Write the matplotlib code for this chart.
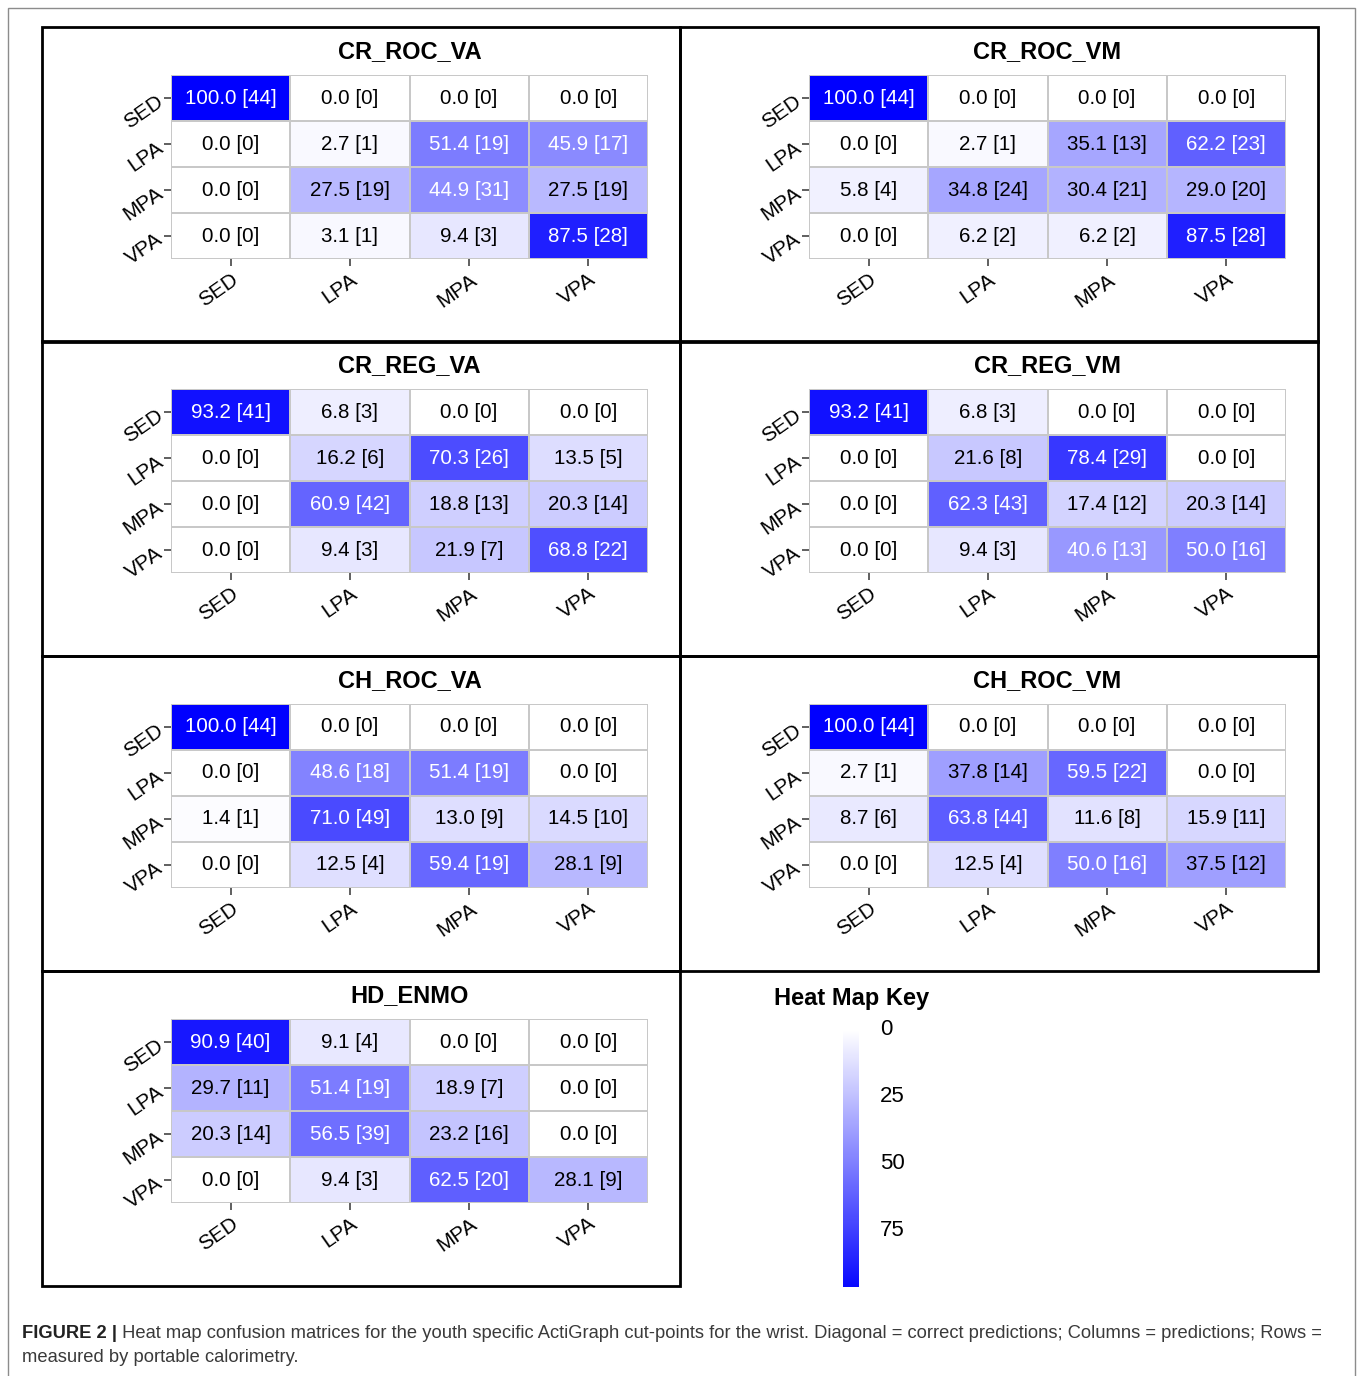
import numpy as np
import matplotlib
matplotlib.use("Agg")
import matplotlib.pyplot as plt
from matplotlib.colors import LinearSegmentedColormap
from matplotlib.patches import Rectangle

plt.rcParams['font.family'] = ['Liberation Sans', 'DejaVu Sans']

classes = ["SED", "LPA", "MPA", "VPA"]

# percent of measured class [count], rows = measured, cols = predicted
titles = ["CR_ROC_VA", "CR_ROC_VM", "CR_REG_VA", "CR_REG_VM",
          "CH_ROC_VA", "CH_ROC_VM", "HD_ENMO"]

pct_cr_roc_va = [[100.0, 0.0, 0.0, 0.0], [0.0, 2.7, 51.4, 45.9],
                 [0.0, 27.5, 44.9, 27.5], [0.0, 3.1, 9.4, 87.5]]
n_cr_roc_va = [[44, 0, 0, 0], [0, 1, 19, 17], [0, 19, 31, 19], [0, 1, 3, 28]]

pct_cr_roc_vm = [[100.0, 0.0, 0.0, 0.0], [0.0, 2.7, 35.1, 62.2],
                 [5.8, 34.8, 30.4, 29.0], [0.0, 6.2, 6.2, 87.5]]
n_cr_roc_vm = [[44, 0, 0, 0], [0, 1, 13, 23], [4, 24, 21, 20], [0, 2, 2, 28]]

pct_cr_reg_va = [[93.2, 6.8, 0.0, 0.0], [0.0, 16.2, 70.3, 13.5],
                 [0.0, 60.9, 18.8, 20.3], [0.0, 9.4, 21.9, 68.8]]
n_cr_reg_va = [[41, 3, 0, 0], [0, 6, 26, 5], [0, 42, 13, 14], [0, 3, 7, 22]]

pct_cr_reg_vm = [[93.2, 6.8, 0.0, 0.0], [0.0, 21.6, 78.4, 0.0],
                 [0.0, 62.3, 17.4, 20.3], [0.0, 9.4, 40.6, 50.0]]
n_cr_reg_vm = [[41, 3, 0, 0], [0, 8, 29, 0], [0, 43, 12, 14], [0, 3, 13, 16]]

pct_ch_roc_va = [[100.0, 0.0, 0.0, 0.0], [0.0, 48.6, 51.4, 0.0],
                 [1.4, 71.0, 13.0, 14.5], [0.0, 12.5, 59.4, 28.1]]
n_ch_roc_va = [[44, 0, 0, 0], [0, 18, 19, 0], [1, 49, 9, 10], [0, 4, 19, 9]]

pct_ch_roc_vm = [[100.0, 0.0, 0.0, 0.0], [2.7, 37.8, 59.5, 0.0],
                 [8.7, 63.8, 11.6, 15.9], [0.0, 12.5, 50.0, 37.5]]
n_ch_roc_vm = [[44, 0, 0, 0], [1, 14, 22, 0], [6, 44, 8, 11], [0, 4, 16, 12]]

pct_hd_enmo = [[90.9, 9.1, 0.0, 0.0], [29.7, 51.4, 18.9, 0.0],
               [20.3, 56.5, 23.2, 0.0], [0.0, 9.4, 62.5, 28.1]]
n_hd_enmo = [[40, 4, 0, 0], [11, 19, 7, 0], [14, 39, 16, 0], [0, 3, 20, 9]]

pcts = [pct_cr_roc_va, pct_cr_roc_vm, pct_cr_reg_va, pct_cr_reg_vm,
        pct_ch_roc_va, pct_ch_roc_vm, pct_hd_enmo]
counts = [n_cr_roc_va, n_cr_roc_vm, n_cr_reg_va, n_cr_reg_vm,
          n_ch_roc_va, n_ch_roc_vm, n_hd_enmo]

key_ticks = [0, 25, 50, 75]

W, H = 1357, 1376
fig = plt.figure(figsize=(W / 100, H / 100), dpi=100)
cmap = LinearSegmentedColormap.from_list("wb", ["#FFFFFF", "#0000FF"])


def px_axes(x0, y0, x1, y1):
    return fig.add_axes([x0 / W, 1 - y1 / H, (x1 - x0) / W, (y1 - y0) / H])


def px_rect(x0, y0, x1, y1, **kw):
    fig.patches.append(Rectangle((x0 / W, 1 - y1 / H), (x1 - x0) / W, (y1 - y0) / H,
                                 transform=fig.transFigure, fill=False, **kw))


# outer figure frame
px_rect(8, 8, 1355, 1380, edgecolor="#8c8c8c", linewidth=1.0)

col_x = [42, 680]
row_y = [27, 341, 656, 971]
panel_w, panel_h = 638, 315

for i, title in enumerate(titles):
    r, c = divmod(i, 2)
    px0, py0 = col_x[c], row_y[r]
    px_rect(px0, py0, px0 + panel_w, py0 + panel_h, edgecolor="black", linewidth=2.0, zorder=5)

    ax = px_axes(px0 + 129, py0 + 48, px0 + 606, py0 + 232)
    vals = np.array(pcts[i])
    ax.pcolormesh(np.arange(5), np.arange(5), vals, cmap=cmap, vmin=0, vmax=100,
                  edgecolors="#c8c8c8", linewidth=1.3)
    ax.set_xlim(0, 4)
    ax.set_ylim(4, 0)
    for rr in range(4):
        for cc in range(4):
            v = vals[rr, cc]
            ax.text(cc + 0.5, rr + 0.5, f"{v:.1f} [{counts[i][rr][cc]}]",
                    ha="center", va="center", fontsize=14.8,
                    color="white" if v > 39 else "black")
    for s in ax.spines.values():
        s.set_visible(False)
    ax.set_xticks(np.arange(4) + 0.5)
    ax.set_yticks(np.arange(4) + 0.5)
    ax.set_xticklabels(classes, rotation=35, ha="right", rotation_mode="anchor")
    ax.set_yticklabels(classes, rotation=35, ha="right", rotation_mode="anchor")
    ax.tick_params(length=5, width=1.2, color="#444444", labelsize=15, pad=3)
    ax.text(0.5, 1 + 23 / 184, title, transform=ax.transAxes, ha="center",
            va="center", fontsize=17, fontweight="bold")

# colour key
cax = px_axes(843, 1023, 859, 1287)
lo, hi = -2.6, 96.3
grad = np.linspace(lo, hi, 256).reshape(-1, 1)
cax.imshow(grad, cmap=cmap, vmin=0, vmax=100, aspect="auto", extent=(0, 1, hi, lo))
cax.set_ylim(hi, lo)
cax.axis("off")
for t in key_ticks:
    cax.text(2.3, t, str(t), transform=cax.get_yaxis_transform(), ha="left",
             va="center", fontsize=16)
fig.text(852 / W, 1 - 998 / H, "Heat Map Key", ha="center", va="center",
         fontsize=17, fontweight="bold")

# caption
cap_font = ['Liberation Sans', 'DejaVu Sans']
head = fig.text(22 / W, 1 - 1333 / H, "FIGURE 2 |", ha="left", va="center",
                fontsize=13.2, fontweight="bold", family=cap_font, color="#222222")
plt.annotate(
    " Heat map confusion matrices for the youth specific ActiGraph cut-points for the wrist. "
    "Diagonal = correct predictions; Columns = predictions; Rows =",
    xy=(1, 0.5), xycoords=head, ha="left", va="center", fontsize=13.2,
    family=cap_font, color="#3a3a3a", annotation_clip=False)
fig.text(22 / W, 1 - 1357 / H, "measured by portable calorimetry.", ha="left",
         va="center", fontsize=13.2, family=cap_font, color="#3a3a3a")

fig.savefig("out.png", dpi=100)
